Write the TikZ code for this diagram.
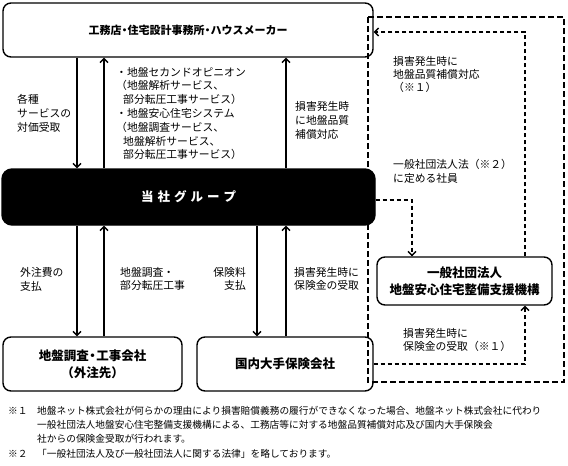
\documentclass[tikz,border=0pt]{standalone}
\usepackage{fontspec}
\setmainfont{Noto Sans CJK JP}
\usetikzlibrary{arrows.meta}
\newcommand{\nakaguro}{\kern-2.5pt・\kern-2.5pt}

\begin{document}
\begin{tikzpicture}[x=1pt,y=-1pt,
  box/.style={draw, line width=1.4pt, rounded corners=8pt, align=center, inner sep=0pt,
    font=\bfseries\fontsize{12.5}{17}\selectfont},
  lbl/.style={align=left, anchor=west, inner sep=0pt, font=\fontsize{10.8}{13.8}\selectfont},
  fn/.style={align=left, anchor=west, inner sep=0pt, font=\fontsize{9.7}{14.3}\selectfont},
  arr/.style={line width=1.4pt, -{Straight Barb[length=4pt,width=8pt]}},
  dsh/.style={line width=1.3pt, dash pattern=on 4.5pt off 2.5pt},
  darr/.style={dsh, -{Straight Barb[length=4pt,width=8pt]}},
  frame/.style={line width=1.4pt, dash pattern=on 6pt off 3pt}]

\useasboundingbox (0,0) rectangle (568,466);

% boxes
\node[box, minimum width=370pt, minimum height=54pt, font=\bfseries\fontsize{11}{15}\selectfont] (top) at (188,30) {工務店\nakaguro 住宅設計事務所\nakaguro ハウスメーカー};
\node[box, fill=black, text=white, minimum width=373pt, minimum height=56pt, rounded corners=10pt] (grp) at (188.5,197)
  {当\hspace{4pt}社\hspace{4pt}グ\hspace{4pt}ル\hspace{4pt}ー\hspace{4pt}プ};
\node[box, minimum width=179pt, minimum height=54pt] (sub) at (92.5,364) {地盤調査\nakaguro 工事会社\\（外注先）};
\node[box, minimum width=176pt, minimum height=54pt] (ins) at (285,364) {国内大手保険会社};
\node[box, minimum width=175pt, minimum height=48pt] (org) at (464.5,281) {一般社団法人\\地盤安心住宅整備支援機構};

% columns of the arrows
\coordinate (c1) at (77,0);
\coordinate (c2) at (104,0);
\coordinate (c3) at (257,0);
\coordinate (c4) at (286,0);

\draw[arr] (top.south -| c1) -- (grp.north -| c1);
\draw[arr] (grp.north -| c2) -- (top.south -| c2);
\draw[arr] (grp.north -| c4) -- (top.south -| c4);
\draw[arr] (grp.south -| c1) -- (sub.north -| c1);
\draw[arr] (sub.north -| c2) -- (grp.south -| c2);
\draw[arr] (grp.south -| c3) -- (ins.north -| c3);
\draw[arr] (ins.north -| c4) -- (grp.south -| c4);

% dashed links
\draw[frame] (368,17) rectangle (564,382);
\draw[darr] ([yshift=-3pt]grp.east) -| ([xshift=-52.5pt]org.north);
\draw[darr] ([xshift=60.5pt]org.north) |- ([yshift=-2pt]top.east);
\draw[darr] (ins.east) -| ([xshift=60.5pt]org.south);

% labels
\node[lbl] (l1) at (17,113.5) {各種\\サービスの\\対価受取};
\node[lbl] (l2) at (116,113.5) {・地盤セカンドオピニオン\\（地盤解析サービス、\\\hspace*{7pt}部分転圧工事サービス）\\・地盤安心住宅システム\\（地盤調査サービス、\\\hspace*{7pt}地盤解析サービス、\\\hspace*{7pt}部分転圧工事サービス）};
\node[lbl] (l3) at (295,120.5) {損害発生時\\に地盤品質\\補償対応};
\node[lbl] (l4) at (20,279) {外注費の\\支払};
\node[lbl] (l5) at (120,279) {地盤調査・\\部分転圧工事};
\node[lbl, anchor=east, align=right] (l6) at (246,279) {保険料\\支払};
\node[lbl] (l7) at (294,279) {損害発生時に\\保険金の受取};
\node[lbl, font=\fontsize{10.8}{12.8}\selectfont] (l8) at (393,74.5) {損害発生時に\\地盤品質補償対応\\（※１）};
\node[lbl] (l9) at (393,171) {一般社団法人法（※２）\\に定める社員};
\node[lbl] (l10) at (403,340) {損害発生時に\\保険金の受取（※１）};

% notes
\node[fn] (m1) at (8,411) {※１};
\node[fn] (n1) at (37,425) {地盤ネット株式会社が何らかの理由により損害賠償義務の履行ができなくなった場合、地盤ネット株式会社に代わり\\一般社団法人地盤安心住宅整備支援機構による、工務店等に対する地盤品質補償対応及び国内大手保険会\\社からの保険金受取が行われます。};
\node[fn] (m2) at (8,454) {※２};
\node[fn] (n2) at (37,454) {「一般社団法人及び一般社団法人に関する法律」を略しております。};

\end{tikzpicture}
\end{document}
